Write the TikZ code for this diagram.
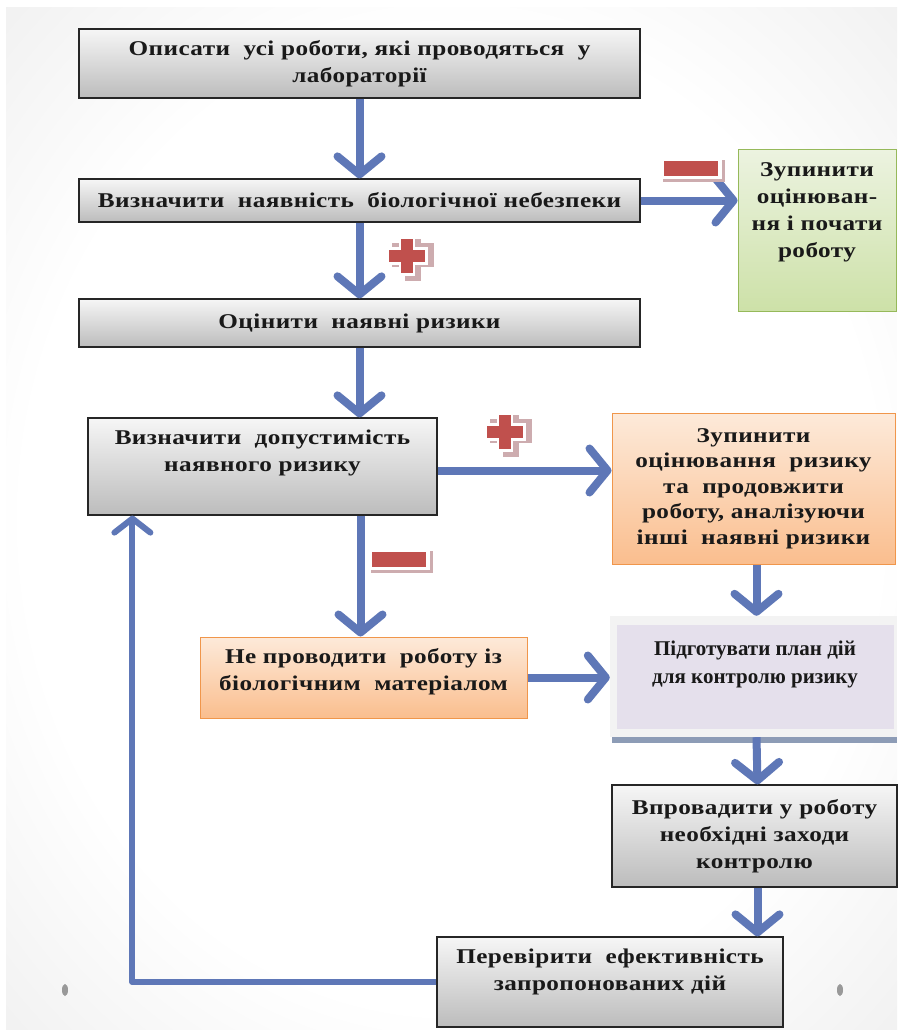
\documentclass[tikz,border=0pt]{standalone}
\usepackage{fontspec}
\setmainfont{Liberation Serif}
\newfontfamily\lsfont{Liberation Serif}[FakeStretch=1.2, LetterSpace=2]
\usetikzlibrary{arrows.meta,calc}
\definecolor{arrblue}{RGB}{94,119,183}
\definecolor{bggray}{RGB}{224,224,224}
\definecolor{bggray2}{RGB}{212,212,212}
\definecolor{boxtop}{RGB}{246,246,246}
\definecolor{boxbot}{RGB}{188,188,188}
\definecolor{ortop}{RGB}{253,234,218}
\definecolor{orbot}{RGB}{250,190,142}
\definecolor{ordraw}{RGB}{240,150,75}
\definecolor{grtop}{RGB}{236,243,224}
\definecolor{grbot}{RGB}{205,225,168}
\definecolor{grdraw}{RGB}{150,185,90}
\definecolor{lavfill}{RGB}{229,224,236}
\definecolor{lavframe}{RGB}{243,243,243}
\definecolor{lavbar}{RGB}{141,156,182}
\definecolor{iconred}{RGB}{192,80,77}
\definecolor{iconshadow}{RGB}{205,172,175}
\pgfdeclareradialshading{bgshade}{\pgfpoint{0bp}{0bp}}{color(0bp)=(white); color(24bp)=(white); color(50bp)=(bggray); color(72bp)=(bggray2)}
\begin{document}
\begin{tikzpicture}[x=1pt,y=-1pt,
  txt/.style={align=center, font=\lsfont\bfseries\fontsize{21}{27}\selectfont, text=black!90, inner sep=0pt},
  graybox/.style={draw=black!85, line width=1.2pt, top color=boxtop, bottom color=boxbot, inner sep=0pt, txt},
  orbox/.style={draw=ordraw, line width=1pt, top color=ortop, bottom color=orbot, inner sep=0pt, txt},
  grbox/.style={draw=grdraw, line width=1pt, top color=grtop, bottom color=grbot, inner sep=0pt, txt},
  flow/.style={draw=arrblue, line width=8pt, -{Straight Barb[length=18pt,width=44pt,round]}},
  loopline/.style={draw=arrblue, line width=6pt, line join=round, -{Straight Barb[length=14pt,width=36pt,round]}},
  plusicon/.pic={
    \fill[iconshadow] (-15,-13) rectangle (27,11);
    \fill[iconshadow] (-2,-17) rectangle (14,25);
    \fill[white] (-21,-9) rectangle (21,9);
    \fill[white] (-8,-20) rectangle (8,20);
    \fill[iconred] (-18,-6) rectangle (18,6);
    \fill[iconred] (-6,-17) rectangle (6,17);
  },
  minusicon/.pic={
    \fill[iconshadow] (-28,-8) rectangle (34,14);
    \fill[white] (-31,-11) rectangle (31,11);
    \fill[iconred] (-27,-7.5) rectangle (27,7.5);
  }
]
\useasboundingbox (0,0) rectangle (897,1030);
\fill[white] (0,0) rectangle (897,1030);
\shade[shading=bgshade] (6,8) rectangle (897,1030);

% dots
\fill[gray!80] (65,990) ellipse (3pt and 6pt);
\fill[gray!80] (840,990) ellipse (3pt and 6pt);

% boxes
\node[graybox, minimum width=561pt, minimum height=69pt] (b1) at (359.5,63.5) {Описати\ \ усі роботи, які проводяться\ \ у\\лабораторії};
\node[graybox, minimum width=561pt, minimum height=43pt] (b2) at (359.5,200.5) {Визначити\ \ наявність\ \ біологічної небезпеки};
\node[graybox, minimum width=561pt, minimum height=48pt] (b3) at (359.5,323) {Оцінити\ \ наявні ризики};
\node[graybox, minimum width=349pt, minimum height=97pt] (b4) at (262.5,466.5) {};
\node[txt] (b4t) at (262.5,452.5) {Визначити\ \ допустимість\\наявного ризику};
\node[grbox, minimum width=158pt, minimum height=162pt] (g) at (817,230) {};
\node[txt] (gt) at (817,212) {Зупинити\\оцінюван-\\ня і почати\\роботу};
\node[orbox, minimum width=283pt, minimum height=151pt, font=\lsfont\bfseries\fontsize{21}{25.5}\selectfont] (or) at (753.5,488.5) {Зупинити\\оцінювання\ \ ризику\\та\ \ продовжити\\роботу, аналізуючи\\інші\ \ наявні ризики};
\node[fill=lavframe, minimum width=287pt, minimum height=121pt, inner sep=0pt] (lav) at (753.5,676.5) {};
\fill[lavbar] (612,737) rectangle (897,743);
\node[fill=lavfill, minimum width=277pt, minimum height=104pt, inner sep=0pt] (lavin) at (755.5,677) {};
\node[txt, font=\rmfamily\bfseries\fontsize{21}{28}\selectfont] (lavt) at (755,664) {Підготувати план дій\\для контролю ризику};
\node[orbox, minimum width=327pt, minimum height=81pt] (ol) at (363.5,677.5) {};
\node[txt] (olt) at (363.5,672) {Не проводити\ \ роботу із\\біологічним\ \ матеріалом};
\node[graybox, minimum width=285pt, minimum height=102pt] (vp) at (754.5,836) {Впровадити у роботу\\необхідні заходи\\контролю};
\node[graybox, minimum width=346pt, minimum height=90pt] (pv) at (610,982) {};
\node[txt] (pvt) at (610,971.5) {Перевірити\ \ ефективність\\запропонованих дій};

% arrows
\draw[flow] (b1.south) -- (b2.north);
\draw[flow] (b2.south) -- (b3.north);
\draw[flow] (b3.south) -- (b3.south |- b4.north);
\draw[flow] (b2.east) -- (b2.east -| g.west);
\draw[flow] ([yshift=-4pt]b4.east) -- ([yshift=-4pt]b4.east -| or.west);
\draw[flow] ([xshift=-3pt]ol.north |- b4.south) -- ([xshift=-3pt]ol.north);
\draw[flow] (ol.east) -- (ol.east -| lav.west);
\draw[flow] ([xshift=3pt]or.south) -- ([xshift=3pt]or.south |- lav.north);
\draw[flow] ([xshift=3pt]lav.south) -- ([xshift=3pt]vp.north);
\draw[flow] ([xshift=3pt]vp.south) -- ([xshift=3pt]vp.south |- pv.north);
\draw[loopline] (pv.west) -| ([xshift=45pt]b4.south west);

% icons
\pic at (407,256) {plusicon};
\pic at (505,432) {plusicon};
\pic at (691,168) {minusicon};
\pic at (399,559) {minusicon};
\end{tikzpicture}
\end{document}
